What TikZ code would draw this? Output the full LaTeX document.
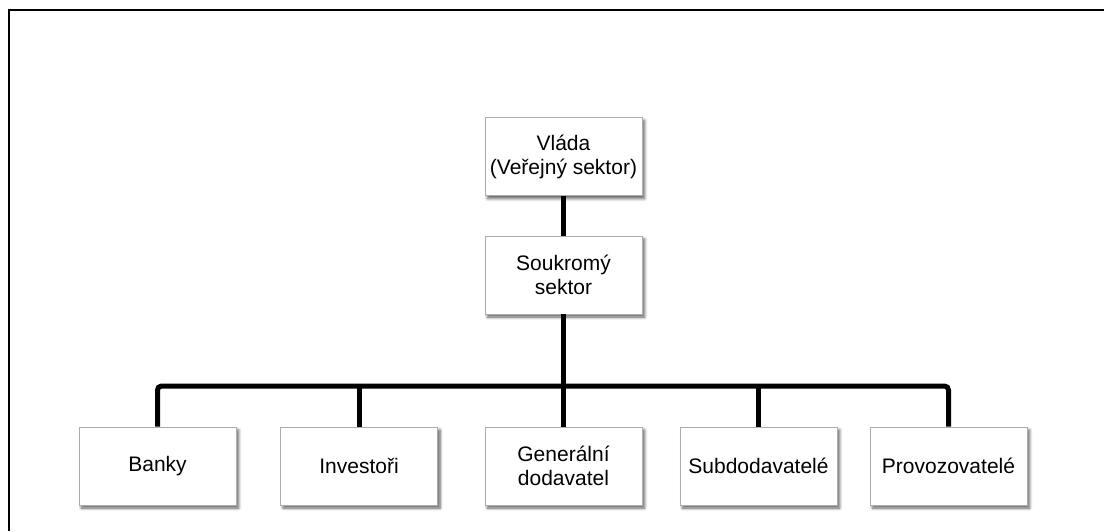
\documentclass[tikz,border=0pt]{standalone}
\usepackage{fontspec}
\setmainfont{Liberation Sans}
\usetikzlibrary{shadows.blur}
\begin{document}
\begin{tikzpicture}[x=1pt,y=-1pt,
  orgbox/.style={draw=gray!65, line width=0.8pt, fill=white,
    minimum width=157pt, minimum height=78pt, inner sep=2pt,
    align=center, font=\fontsize{21}{24}\selectfont,
    blur shadow={shadow xshift=2.5pt, shadow yshift=-3pt,
      shadow blur radius=3pt, shadow blur steps=6, shadow opacity=65}},
  conn/.style={line width=5pt, black},
  frameline/.style={line width=2pt, black}]
\useasboundingbox (0,0) rectangle (1104,531);
% frame along the top and left edges
\draw[frameline] (9,531) -- (9,10) -- (1104,10);

% nodes
\node[orgbox] (vlada) at (563.5,156.5) {Vláda\\(Veřejný sektor)};
\node[orgbox] (soukromy) at (563.5,275) {Soukromý\\sektor};
\node[orgbox] (banky) at (157.5,466) {Banky};
\node[orgbox] (investori) at (359,466) {Investoři};
\node[orgbox] (generalni) at (563.5,466) {Generální\\dodavatel};
\node[orgbox] (subdod) at (758.5,466) {Subdodavatelé};
\node[orgbox] (provoz) at (948.5,466) {Provozovatelé};
\coordinate (bus) at (563.5,386);

% connectors
\draw[conn] (vlada.south) -- (soukromy.north);
\draw[conn] (soukromy.south) -- (generalni.north);
\draw[conn, rounded corners=4pt] (banky.north) |- (bus) -| (provoz.north);
\draw[conn] (investori.north) -- (investori.north |- bus);
\draw[conn] (subdod.north) -- (subdod.north |- bus);
\end{tikzpicture}
\end{document}
